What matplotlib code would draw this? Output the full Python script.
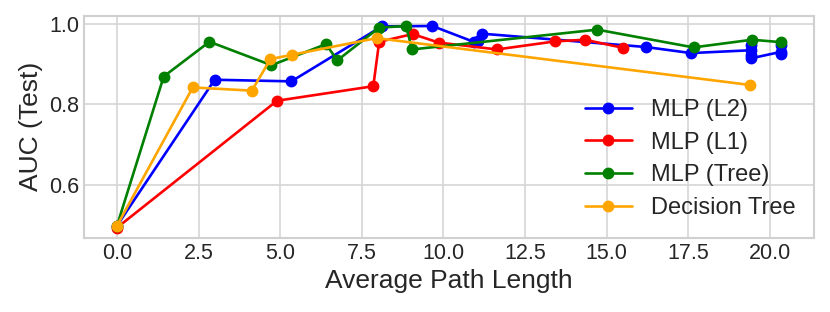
import numpy as np
import matplotlib
matplotlib.use("Agg")
from matplotlib import pyplot as plt

# values
l2_x = [0.0, 2.99, 5.34, 8.11, 9.66, 10.92, 11.07, 11.18, 16.2, 17.58, 19.42, 19.42, 19.42, 19.42, 20.34, 20.34, 20.34]
l2_y = [0.50, 0.861, 0.857, 0.993, 0.994, 0.955, 0.957, 0.975, 0.942, 0.927, 0.934, 0.946, 0.922, 0.914, 0.930, 0.948, 0.924]

l1_x = [0.0, 4.90, 7.85, 8.03, 9.06, 9.85, 11.64, 13.43, 14.33, 15.5]
l1_y = [0.495, 0.809, 0.845, 0.955, 0.974, 0.953, 0.936, 0.956, 0.960, 0.940]

tree_x = [0.0, 1.43, 2.83, 4.73, 6.40, 6.75, 8.03, 8.85, 9.04, 14.71, 17.66, 19.45, 20.34]
tree_y = [0.50, 0.869, 0.955, 0.897, 0.949, 0.909, 0.990, 0.994, 0.936, 0.985, 0.941, 0.960, 0.954]

dt_x = [0.0, 2.32, 4.13, 4.70, 5.37, 7.95, 19.4]
dt_y = [0.50, 0.842, 0.834, 0.912, 0.923, 0.964, 0.848]

plt.style.use("seaborn-v0_8-whitegrid")
plt.rcParams["font.family"] = ["Liberation Sans", "DejaVu Sans"]

fig, ax = plt.subplots(figsize=(8.3, 3.12), dpi=100)
fig.subplots_adjust(left=0.101, right=0.981, top=0.949, bottom=0.238)

series = [(l2_x, l2_y, "blue", "MLP (L2)"),
          (l1_x, l1_y, "red", "MLP (L1)"),
          (tree_x, tree_y, "green", "MLP (Tree)"),
          (dt_x, dt_y, "orange", "Decision Tree")]
for xs, ys, c, lab in series:
    ax.plot(xs, ys, color=c, marker="o", markersize=7.5, linewidth=1.9, label=lab)

ax.set_xticks(np.arange(0, 20.1, 2.5))
ax.set_yticks([0.6, 0.8, 1.0])
ax.tick_params(labelsize=15.5, colors=".15")
ax.set_xlabel("Average Path Length", fontsize=19, color=".15")
ax.set_ylabel("AUC (Test)", fontsize=19, color=".15")
for s in ax.spines.values():
    s.set_visible(True)
    s.set_color("#d0d0d0")
    s.set_linewidth(1.5)
ax.grid(color="#d5d5d5", linewidth=1.2)

ax.legend(loc="lower right", fontsize=17, frameon=False, handlelength=2.0,
          labelspacing=0.45, borderaxespad=0.4)

plt.savefig("out.png", dpi=100)
